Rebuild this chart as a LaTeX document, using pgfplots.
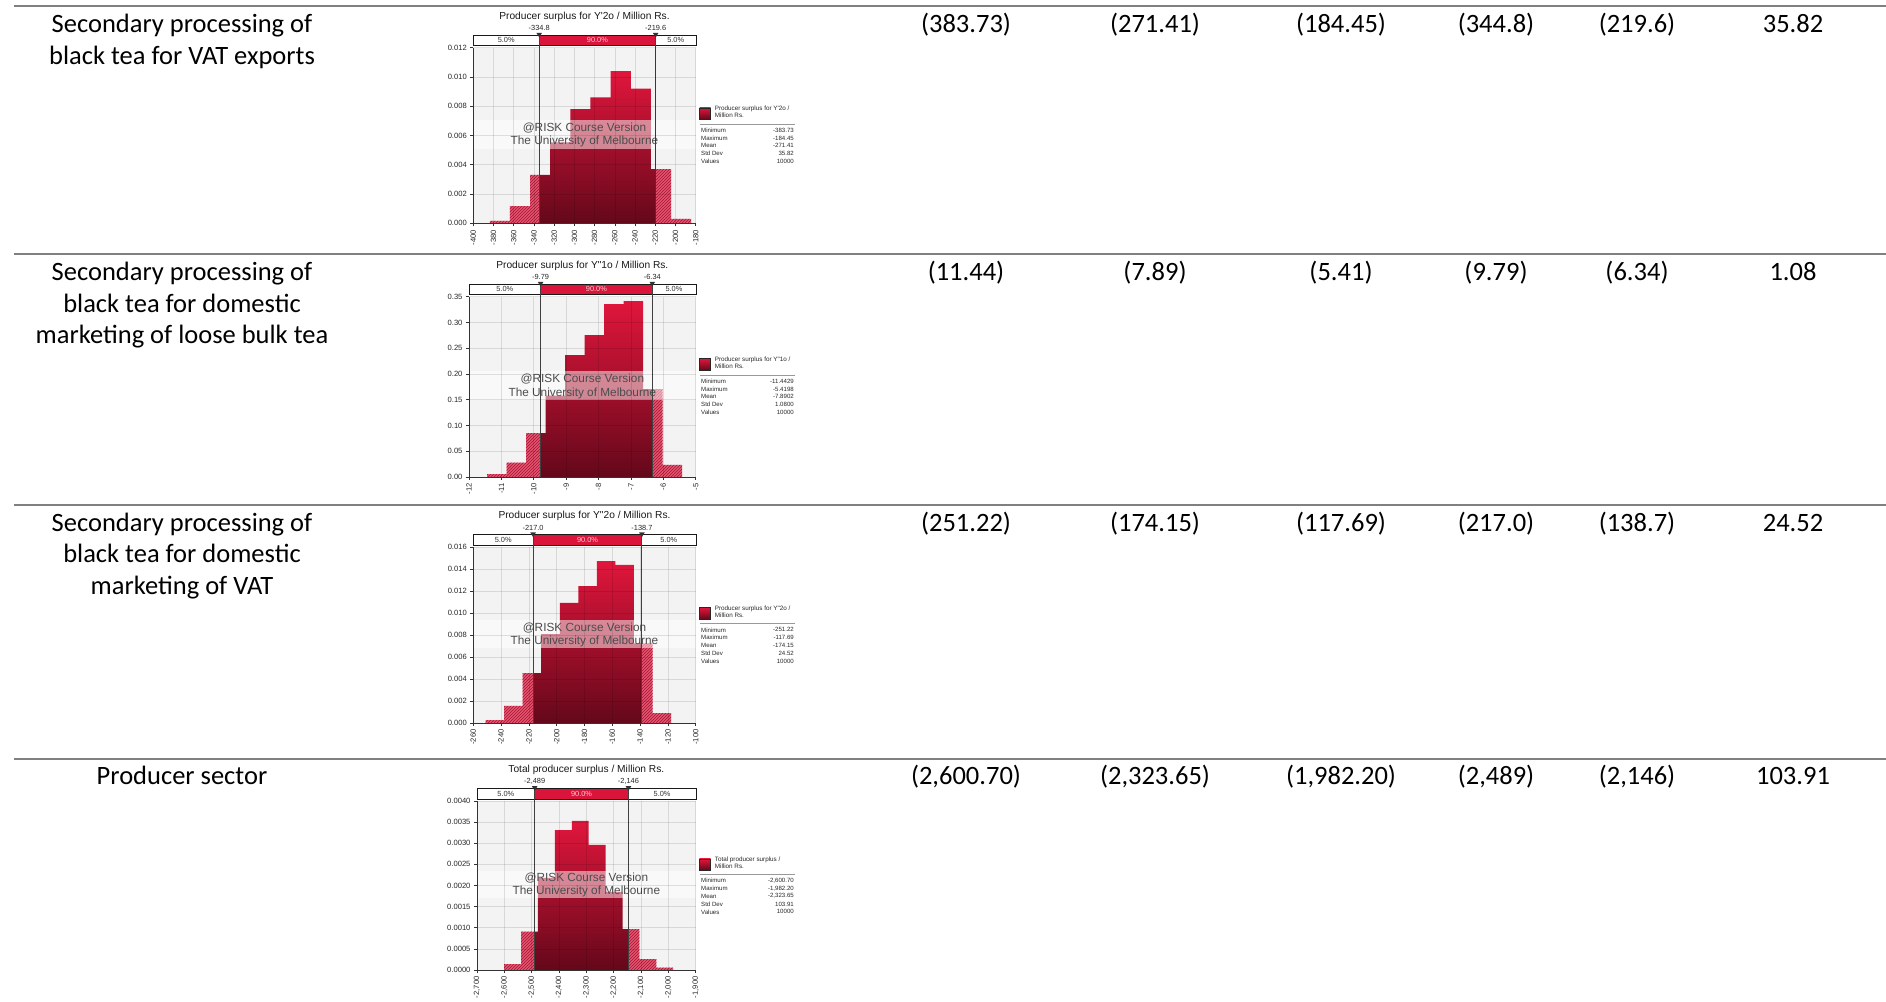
\documentclass[border=0pt]{standalone}
\usepackage{fontspec}
\setmainfont{Carlito}
\newfontfamily\riskfont{Liberation Sans}
\usepackage{pgfplots}
\pgfplotsset{compat=1.18}
\usetikzlibrary{patterns,calc}

\definecolor{riskred}{RGB}{218,20,58}
\definecolor{bartop}{RGB}{224,22,60}
\definecolor{barbot}{RGB}{100,8,26}
\definecolor{hatchfill}{RGB}{226,86,114}
\definecolor{hatchline}{RGB}{170,18,48}
\definecolor{bggray}{RGB}{243,243,243}
\definecolor{rulegray}{RGB}{128,128,128}
\definecolor{pctwhite}{RGB}{248,205,212}

\tikzset{
  rowlab/.style={anchor=base, font=\fontsize{26.5}{31.5}\selectfont, inner sep=0pt},
  titletext/.style={font=\riskfont\fontsize{10.2}{12}\selectfont, text=black!90, inner sep=0pt},
  marktext/.style={font=\riskfont\fontsize{7.4}{9}\selectfont, text=black!85, inner sep=0pt},
  pcttext/.style={font=\riskfont\fontsize{7.4}{9}\selectfont, text=black!80, inner sep=0pt},
  wmtext/.style={font=\riskfont\fontsize{11.8}{13}\selectfont, text=black!70, inner sep=0pt},
  legtext/.style={font=\riskfont\fontsize{6.3}{7.4}\selectfont, text=black!85, inner sep=0pt},
  stattext/.style={font=\riskfont\fontsize{6.1}{7}\selectfont, text=black!85, inner sep=0pt},
}

\pgfplotsset{
  riskaxis/.style={
    scale only axis, clip=false, axis on top,
    axis x line*=bottom, axis y line*=left,
    axis line style={draw=black!80, line width=0.8pt},
    tick align=outside, major tick length=3pt,
    tick style={draw=black!80, line width=0.6pt},
    grid=major, grid style={draw=black, draw opacity=0.11, line width=0.6pt},
    axis background/.style={fill=bggray},
    ymin=0, enlargelimits=false,
    scaled x ticks=false, scaled y ticks=false,
    /pgf/number format/assume math mode=true,
    tick label style={font=\riskfont\fontsize{7.6}{8}\selectfont, text=black!85},
    xticklabel style={rotate=90, anchor=east},
    yticklabel style={/pgf/number format/fixed, /pgf/number format/fixed zerofill},
  },
  lowtail/.style={const plot, mark=none, draw=none, fill=hatchfill,
    postaction={pattern=north east lines, pattern color=hatchline}},
  midbody/.style={const plot, mark=none, draw=none, top color=bartop, bottom color=barbot},
}

% 5% / 90% / 5% band above the plot area
\newcommand{\pctbar}[5]{%
  \filldraw[fill=white, draw=black!90, line width=0.9pt] ($(rel axis cs:0,1)+(0pt,2pt)$) rectangle ($(rel axis cs:1,1)+(1pt,12.5pt)$);
  \fill[riskred] ($({axis cs:#1,0}|-{rel axis cs:0,1})+(0pt,2pt)$) rectangle ($({axis cs:#2,0}|-{rel axis cs:0,1})+(0pt,12.5pt)$);
  \draw[draw=black!90, line width=0.9pt] ($(rel axis cs:0,1)+(0pt,2pt)$) rectangle ($(rel axis cs:1,1)+(1pt,12.5pt)$);
  \node[pcttext] at ($({axis cs:#3,0}|-{rel axis cs:0,1})+(0pt,7.25pt)$) {5.0\%};
  \node[pcttext, text=pctwhite] at ($({axis cs:#4,0}|-{rel axis cs:0,1})+(0pt,7.25pt)$) {90.0\%};
  \node[pcttext] at ($({axis cs:#5,0}|-{rel axis cs:0,1})+(0pt,7.25pt)$) {5.0\%};
}
% percentile delimiter with its value
\newcommand{\markerline}[2]{%
  \draw[draw=black!75, line width=1pt] ({axis cs:#1,0}|-{rel axis cs:0,0}) -- ($({axis cs:#1,0}|-{rel axis cs:0,1})+(0pt,12.5pt)$);
  \fill[black!80] ($({axis cs:#1,0}|-{rel axis cs:0,1})+(-2.8pt,14.8pt)$) -- ($({axis cs:#1,0}|-{rel axis cs:0,1})+(2.8pt,14.8pt)$) -- ($({axis cs:#1,0}|-{rel axis cs:0,1})+(0pt,10.2pt)$) -- cycle;
  \node[marktext] at ($({axis cs:#1,0}|-{rel axis cs:0,1})+(0pt,19.7pt)$) {#2};
}
% title and course watermark
\newcommand{\riskdecor}[1]{%
  \fill[white, opacity=0.5] (rel axis cs:0,0.425) rectangle (rel axis cs:1,0.588);
  \node[wmtext] at (rel axis cs:0.5,0.542) {@RISK Course Version};
  \node[wmtext] at (rel axis cs:0.5,0.464) {The University of Melbourne};
  \node[titletext] at ([yshift=31.3pt]rel axis cs:0.5,1) {#1};
}
\newcommand{\statrow}[3]{%
  \node[stattext, anchor=west] at ([xshift=5.3pt,yshift=-#1pt]rel axis cs:1,0.566) {#2};
  \node[stattext, anchor=east] at ([xshift=98.3pt,yshift=-#1pt]rel axis cs:1,0.566) {#3};
}
% legend swatch and summary statistics
\newcommand{\risklegend}[7]{%
  \draw[top color=bartop, bottom color=barbot, draw=black!85, line width=0.8pt] ([xshift=3.8pt]rel axis cs:1,0.657) rectangle ([xshift=15pt]rel axis cs:1,0.592);
  \node[legtext, anchor=north west, align=left] at ([xshift=19pt,yshift=2.2pt]rel axis cs:1,0.657) {#1\\#2};
  \draw[black!40, line width=0.8pt] ([xshift=4.3pt]rel axis cs:1,0.566) -- ([xshift=99.3pt]rel axis cs:1,0.566);
  \statrow{6.3}{Minimum}{#3}
  \statrow{14.1}{Maximum}{#4}
  \statrow{21.9}{Mean}{#5}
  \statrow{29.7}{Std Dev}{#6}
  \statrow{37.5}{Values}{#7}
}

\begin{document}
\begin{tikzpicture}[x=1pt,y=1pt]
\path[use as bounding box] (0,0) rectangle (1886,1001);

% table rules
\foreach \yy in {995,747,496,242}
  \draw[rulegray, line width=2pt] (14,\yy) -- (1886,\yy);

% row labels
\node[rowlab] at (182,968.2) {Secondary processing of};
\node[rowlab] at (182,936.7) {black tea for VAT exports};
\node[rowlab] at (182,720.2) {Secondary processing of};
\node[rowlab] at (182,688.7) {black tea for domestic};
\node[rowlab] at (182,657.2) {marketing of loose bulk tea};
\node[rowlab] at (182,469.7) {Secondary processing of};
\node[rowlab] at (182,438.2) {black tea for domestic};
\node[rowlab] at (182,406.7) {marketing of VAT};
\node[rowlab] at (182,216.7) {Producer sector};

% values: minimum, mean, maximum, 5%, 95%, std dev
\node[rowlab] at (966,968.2) {(383.73)};
\node[rowlab] at (1155,968.2) {(271.41)};
\node[rowlab] at (1341,968.2) {(184.45)};
\node[rowlab] at (1496,968.2) {(344.8)};
\node[rowlab] at (1637,968.2) {(219.6)};
\node[rowlab] at (1793,968.2) {35.82};

\node[rowlab] at (966,720.2) {(11.44)};
\node[rowlab] at (1155,720.2) {(7.89)};
\node[rowlab] at (1341,720.2) {(5.41)};
\node[rowlab] at (1496,720.2) {(9.79)};
\node[rowlab] at (1637,720.2) {(6.34)};
\node[rowlab] at (1793,720.2) {1.08};

\node[rowlab] at (966,469.7) {(251.22)};
\node[rowlab] at (1155,469.7) {(174.15)};
\node[rowlab] at (1341,469.7) {(117.69)};
\node[rowlab] at (1496,469.7) {(217.0)};
\node[rowlab] at (1637,469.7) {(138.7)};
\node[rowlab] at (1793,469.7) {24.52};

\node[rowlab] at (966,216.7) {(2,600.70)};
\node[rowlab] at (1155,216.7) {(2,323.65)};
\node[rowlab] at (1341,216.7) {(1,982.20)};
\node[rowlab] at (1496,216.7) {(2,489)};
\node[rowlab] at (1637,216.7) {(2,146)};
\node[rowlab] at (1793,216.7) {103.91};

% Y'2o
\begin{axis}[riskaxis, at={(473.3pt,777.7pt)}, width=222.4pt, height=175.6pt,
  xmin=-400, xmax=-180, ymax=0.012,
  xtick={-400,-380,...,-180},
  ytick={0,0.002,0.004,0.006,0.008,0.010,0.012},
  yticklabel style={/pgf/number format/precision=3}]
\addplot[lowtail] coordinates {(-383.73,0.00016) (-363.80,0.00118) (-343.87,0.0033) (-334.8,0.0033)} \closedcycle;
\addplot[midbody] coordinates {(-334.8,0.0033) (-323.95,0.00553) (-304.02,0.0078) (-284.09,0.0086) (-264.16,0.0104) (-244.23,0.0092) (-224.31,0.0037) (-219.6,0.0037)} \closedcycle;
\addplot[lowtail] coordinates {(-219.6,0.0037) (-204.38,0.0003) (-184.45,0.0003)} \closedcycle;
\riskdecor{Producer surplus for Y\textquotesingle 2o / Million Rs.}
\pctbar{-334.8}{-219.6}{-367.4}{-277.2}{-199.8}
\markerline{-334.8}{-334.8}
\markerline{-219.6}{-219.6}
\risklegend{Producer surplus for Y\textquotesingle 2o /}{Million Rs.}{-383.73}{-184.45}{-271.41}{35.82}{10000}
\end{axis}

% Y"1o
\begin{axis}[riskaxis, at={(469pt,524pt)}, width=226.7pt, height=180.3pt,
  xmin=-12, xmax=-5, ymax=0.35,
  xtick={-12,-11,...,-5},
  ytick={0,0.05,0.10,0.15,0.20,0.25,0.30,0.35},
  yticklabel style={/pgf/number format/precision=2}]
\addplot[lowtail] coordinates {(-11.4429,0.0058) (-10.8406,0.0278) (-10.2383,0.0854) (-9.79,0.0854)} \closedcycle;
\addplot[midbody] coordinates {(-9.79,0.0854) (-9.6360,0.158) (-9.0337,0.2367) (-8.4314,0.2756) (-7.8290,0.3357) (-7.2267,0.3415) (-6.6244,0.1708) (-6.34,0.1708)} \closedcycle;
\addplot[lowtail] coordinates {(-6.34,0.1708) (-6.0221,0.0233) (-5.4198,0.0233)} \closedcycle;
\riskdecor{Producer surplus for Y"1o / Million Rs.}
\pctbar{-9.79}{-6.34}{-10.895}{-8.065}{-5.67}
\markerline{-9.79}{-9.79}
\markerline{-6.34}{-6.34}
\risklegend{Producer surplus for Y"1o /}{Million Rs.}{-11.4429}{-5.4198}{-7.8902}{1.0800}{10000}
\end{axis}

% Y"2o
\begin{axis}[riskaxis, at={(473.3pt,278pt)}, width=222.4pt, height=175.7pt,
  xmin=-260, xmax=-100, ymax=0.016,
  xtick={-260,-240,...,-100},
  ytick={0,0.002,0.004,0.006,0.008,0.010,0.012,0.014,0.016},
  yticklabel style={/pgf/number format/precision=3}]
\addplot[lowtail] coordinates {(-251.22,0.00027) (-237.87,0.00155) (-224.51,0.00455) (-217.0,0.00455)} \closedcycle;
\addplot[midbody] coordinates {(-217.0,0.00455) (-211.16,0.0081) (-197.81,0.01093) (-184.46,0.01247) (-171.10,0.01475) (-157.75,0.01439) (-144.40,0.00725) (-138.7,0.00725)} \closedcycle;
\addplot[lowtail] coordinates {(-138.7,0.00725) (-131.04,0.00091) (-117.69,0.00091)} \closedcycle;
\riskdecor{Producer surplus for Y"2o / Million Rs.}
\pctbar{-217.0}{-138.7}{-238.5}{-177.85}{-119.35}
\markerline{-217.0}{-217.0}
\markerline{-138.7}{-138.7}
\risklegend{Producer surplus for Y"2o /}{Million Rs.}{-251.22}{-117.69}{-174.15}{24.52}{10000}
\end{axis}

% total
\begin{axis}[riskaxis, at={(477pt,31pt)}, width=218.7pt, height=169pt,
  xmin=-2700, xmax=-1900, ymax=0.004,
  xtick={-2700,-2600,...,-1900},
  xticklabel style={/pgf/number format/1000 sep={,}},
  ytick={0,0.0005,0.0010,0.0015,0.0020,0.0025,0.0030,0.0035,0.0040},
  yticklabel style={/pgf/number format/precision=4}]
\addplot[lowtail] coordinates {(-2600.70,0.000142) (-2538.85,0.000907) (-2489,0.000907)} \closedcycle;
\addplot[midbody] coordinates {(-2489,0.000907) (-2477.00,0.00218) (-2415.15,0.00331) (-2353.30,0.00353) (-2291.45,0.00296) (-2229.60,0.00185) (-2167.75,0.00097) (-2146,0.00097)} \closedcycle;
\addplot[lowtail] coordinates {(-2146,0.00097) (-2105.90,0.00026) (-2044.05,0.000055) (-1982.20,0.000055)} \closedcycle;
\riskdecor{Total producer surplus / Million Rs.}
\pctbar{-2489}{-2146}{-2594.5}{-2317.5}{-2023}
\markerline{-2489}{-2,489}
\markerline{-2146}{-2,146}
\risklegend{Total producer surplus /}{Million Rs.}{-2,600.70}{-1,982.20}{-2,323.65}{103.91}{10000}
\end{axis}
\end{tikzpicture}
\end{document}
